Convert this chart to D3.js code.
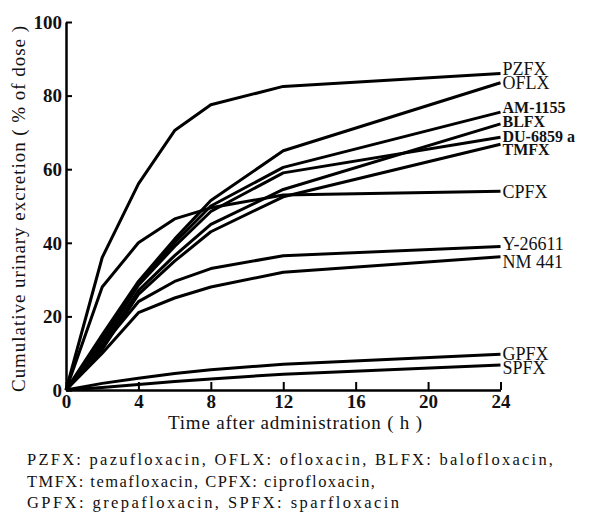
<!DOCTYPE html>
<html><head><meta charset="utf-8">
<script src="https://cdn.jsdelivr.net/npm/d3@7"></script>
<style>
html,body{margin:0;padding:0;background:#fff;}
svg{display:block;}
text{font-family:"Liberation Serif","Times New Roman",serif;fill:#111;}
</style></head>
<body>
<svg id="chart" width="590" height="512"></svg>
<script>
// ---- data ----
const times = [0, 2, 4, 6, 8, 12, 24];
const drugNames = ["PZFX","OFLX","AM-1155","BLFX","DU-6859 a","TMFX","CPFX","Y-26611","NM 441","GPFX","SPFX"];
const PZFX    = [0, 36, 56, 70.5, 77.5, 82.5, 86];
const OFLX    = [0, 15, 29.5, 41, 51.5, 65, 83.5];
const AM1155  = [0, 14, 29, 40, 50, 60.5, 75.5];
const BLFX    = [0, 12, 27, 36.5, 45, 54.5, 72.3];
const DU6859a = [0, 13, 28.5, 39, 48.5, 59, 68.7];
const TMFX    = [0, 11, 26, 35, 43, 52.5, 66.8];
const CPFX    = [0, 28, 40, 46.5, 49.5, 53, 54];
const Y26611  = [0, 12, 24, 29.5, 33, 36.5, 39];
const NM441   = [0, 10, 21, 25, 28, 32, 36.2];
const GPFX    = [0, 1.8, 3.2, 4.5, 5.5, 7, 9.7];
const SPFX    = [0, 0.7, 1.5, 2.3, 3, 4.3, 6.8];
const seriesValues = [PZFX, OFLX, AM1155, BLFX, DU6859a, TMFX, CPFX, Y26611, NM441, GPFX, SPFX];
const boldLabels = [false,false,true,true,true,true,false,false,false,false,false];
const labelDy = [-5, 0, -5, -3, -1, 5, 0, -3, 5, -1, 3];
const xTicks = [0, 4, 8, 12, 16, 20, 24];
const yTicks = [0, 20, 40, 60, 80, 100];
const footnotes = [
  "PZFX: pazufloxacin, OFLX: ofloxacin, BLFX: balofloxacin,",
  "TMFX: temafloxacin, CPFX: ciprofloxacin,",
  "GPFX: grepafloxacin, SPFX: sparfloxacin"
];

// ---- chart ----
const svg = d3.select("#chart");
const x = d3.scaleLinear().domain([0, 24]).range([66, 500.5]);
const y = d3.scaleLinear().domain([0, 100]).range([390, 22]);

const line = d3.line().x(d => x(d[0])).y(d => y(d[1]));

svg.append("g").selectAll("path")
  .data(seriesValues)
  .join("path")
  .attr("d", vals => line(vals.map((v, i) => [times[i], v])))
  .attr("fill", "none")
  .attr("stroke", "#000")
  .attr("stroke-width", 3)
  .attr("stroke-linejoin", "round");

// axes
const xAxis = svg.append("g").attr("transform", `translate(0,${y(0)})`)
  .call(d3.axisBottom(x).tickValues(xTicks).tickSizeInner(-8).tickSizeOuter(0).tickPadding(4));
const yAxis = svg.append("g").attr("transform", `translate(${x(0)},0)`)
  .call(d3.axisLeft(y).tickValues(yTicks).tickSizeInner(-6).tickSizeOuter(0).tickPadding(4));
[xAxis, yAxis].forEach(g => {
  g.select(".domain").attr("stroke", "#000").attr("stroke-width", 2.5);
  g.selectAll(".tick line").attr("stroke", "#000").attr("stroke-width", 2);
  g.selectAll(".tick text").attr("fill", "#111")
    .style("font-family", '"Liberation Serif",serif').style("font-size", "19px").style("font-weight", "bold");
});
xAxis.selectAll(".tick text").attr("dy", "0.75em");
yAxis.selectAll(".tick text").attr("dy", "0.33em");

// series labels
svg.append("g").selectAll("text")
  .data(drugNames)
  .join("text")
  .attr("x", x(24) + 2)
  .attr("y", (d, i) => y(seriesValues[i][seriesValues[i].length - 1]) + labelDy[i])
  .attr("dy", "0.35em")
  .style("font-size", (d, i) => boldLabels[i] ? "16px" : "18px")
  .style("font-weight", (d, i) => boldLabels[i] ? "bold" : "normal")
  .text(d => d);

// axis titles
svg.append("text")
  .attr("transform", "translate(25,209) rotate(-90)")
  .attr("text-anchor", "middle")
  .attr("textLength", 366).attr("lengthAdjust", "spacing")
  .style("font-size", "19px")
  .text("Cumulative urinary excretion ( % of dose )");

svg.append("text")
  .attr("x", 295).attr("y", 429)
  .attr("text-anchor", "middle")
  .attr("textLength", 254).attr("lengthAdjust", "spacing")
  .style("font-size", "19px")
  .text("Time after administration ( h )");

// footnotes
const fnLen = [526, 348, 372];
svg.append("g").selectAll("text")
  .data(footnotes)
  .join("text")
  .attr("x", 27)
  .attr("y", (d, i) => 465 + i * 21.5)
  .attr("textLength", (d, i) => fnLen[i]).attr("lengthAdjust", "spacing")
  .style("font-size", "16.5px")
  .text(d => d);
</script>
</body></html>
